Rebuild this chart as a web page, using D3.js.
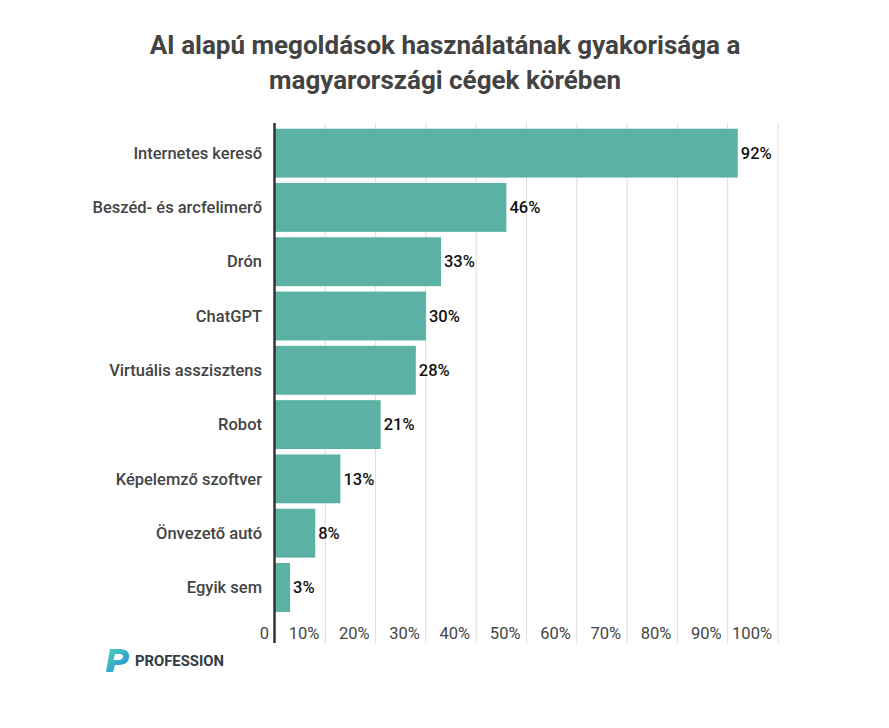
<!DOCTYPE html>
<html>
<head>
<meta charset="utf-8">
<script src="https://cdn.jsdelivr.net/npm/d3@7"></script>
<style>
  body { margin: 0; background: #fff; }
  svg { display: block; font-family: Roboto, "Open Sans", sans-serif; }
</style>
</head>
<body>
<div id="chart"></div>
<script>
// Data
const categories = ["Internetes kereső", "Beszéd- és arcfelimerő", "Drón", "ChatGPT",
    "Virtuális asszisztens", "Robot", "Képelemző szoftver", "Önvezető autó", "Egyik sem"];
const values = [92, 46, 33, 30, 28, 21, 13, 8, 3];
const tickValues = [0, 10, 20, 30, 40, 50, 60, 70, 80, 90, 100];
const titleLines = ["AI alapú megoldások használatának gyakorisága a", "magyarországi cégek körében"];

const width = 889, height = 728;
const svg = d3.select("#chart").append("svg")
    .attr("width", width)
    .attr("height", height);

// Title
svg.append("g").selectAll("text")
    .data(titleLines)
    .enter().append("text")
    .attr("x", 445)
    .attr("y", (d, i) => 54 + i * 35)
    .attr("text-anchor", "middle")
    .attr("font-size", 26)
    .attr("font-weight", 700)
    .attr("fill", "#434343")
    .text(d => d);

const x = d3.scaleLinear().domain([0, 100]).range([275, 778]);
const y = d3.scaleBand().domain(categories).range([126, 614.6])
    .paddingInner(0.1).paddingOuter(0.05);

// Gridlines
svg.append("g").selectAll("line")
    .data(tickValues.slice(1))
    .enter().append("line")
    .attr("x1", d => x(d)).attr("x2", d => x(d))
    .attr("y1", 123).attr("y2", 643)
    .attr("stroke", "#dcdcdc")
    .attr("stroke-width", 1);

// Tick labels
svg.append("g").selectAll("text")
    .data(tickValues)
    .enter().append("text")
    .attr("x", d => x(d) - 6)
    .attr("y", 639)
    .attr("text-anchor", "end")
    .attr("font-size", 16.5)
    .attr("fill", "#444")
    .text(d => d === 0 ? "0" : d + "%");

// Bars
svg.append("g").selectAll("rect")
    .data(values)
    .enter().append("rect")
    .attr("x", x(0))
    .attr("y", (d, i) => y(categories[i]))
    .attr("width", d => x(d) - x(0))
    .attr("height", y.bandwidth())
    .attr("fill", "#5bb1a3");

// Value labels
svg.append("g").selectAll("text")
    .data(values)
    .enter().append("text")
    .attr("x", d => x(d) + 3)
    .attr("y", (d, i) => y(categories[i]) + y.bandwidth() / 2)
    .attr("dy", "0.35em")
    .attr("font-size", 16.5)
    .attr("font-weight", 500)
    .attr("fill", "#111")
    .text(d => d + "%");

// Category labels
svg.append("g").selectAll("text")
    .data(categories)
    .enter().append("text")
    .attr("x", 262)
    .attr("y", d => y(d) + y.bandwidth() / 2)
    .attr("dy", "0.35em")
    .attr("text-anchor", "end")
    .attr("font-size", 16.5)
    .attr("font-weight", 500)
    .attr("fill", "#444")
    .text(d => d);

// Zero axis line
svg.append("line")
    .attr("x1", 274.5).attr("x2", 274.5)
    .attr("y1", 123).attr("y2", 643)
    .attr("stroke", "#333")
    .attr("stroke-width", 2.5);

// Logo
const defs = svg.append("defs");
const grad = defs.append("linearGradient")
    .attr("id", "logoGrad")
    .attr("x1", "0").attr("y1", "0").attr("x2", "1").attr("y2", "1");
grad.append("stop").attr("offset", "0%").attr("stop-color", "#46d6b0");
grad.append("stop").attr("offset", "100%").attr("stop-color", "#2a86e6");

const logo = svg.append("g").attr("transform", "translate(106,649)");
logo.append("path")
    .attr("d", "M4,0 H14 C21,0 24,4 23,9 C22,14 18,16 12,16 H9 L7,23 H0 Z M9,5 L7.5,11 H12 C15,11 16.5,10 17,8 C17.5,6 16,5 13,5 Z")
    .attr("fill", "url(#logoGrad)")
    .attr("fill-rule", "evenodd");
svg.append("text")
    .attr("x", 135)
    .attr("y", 666)
    .attr("font-size", 14.8)
    .attr("font-weight", 700)
    .attr("fill", "#2f3a45")
    .text("PROFESSION");
</script>
</body>
</html>
